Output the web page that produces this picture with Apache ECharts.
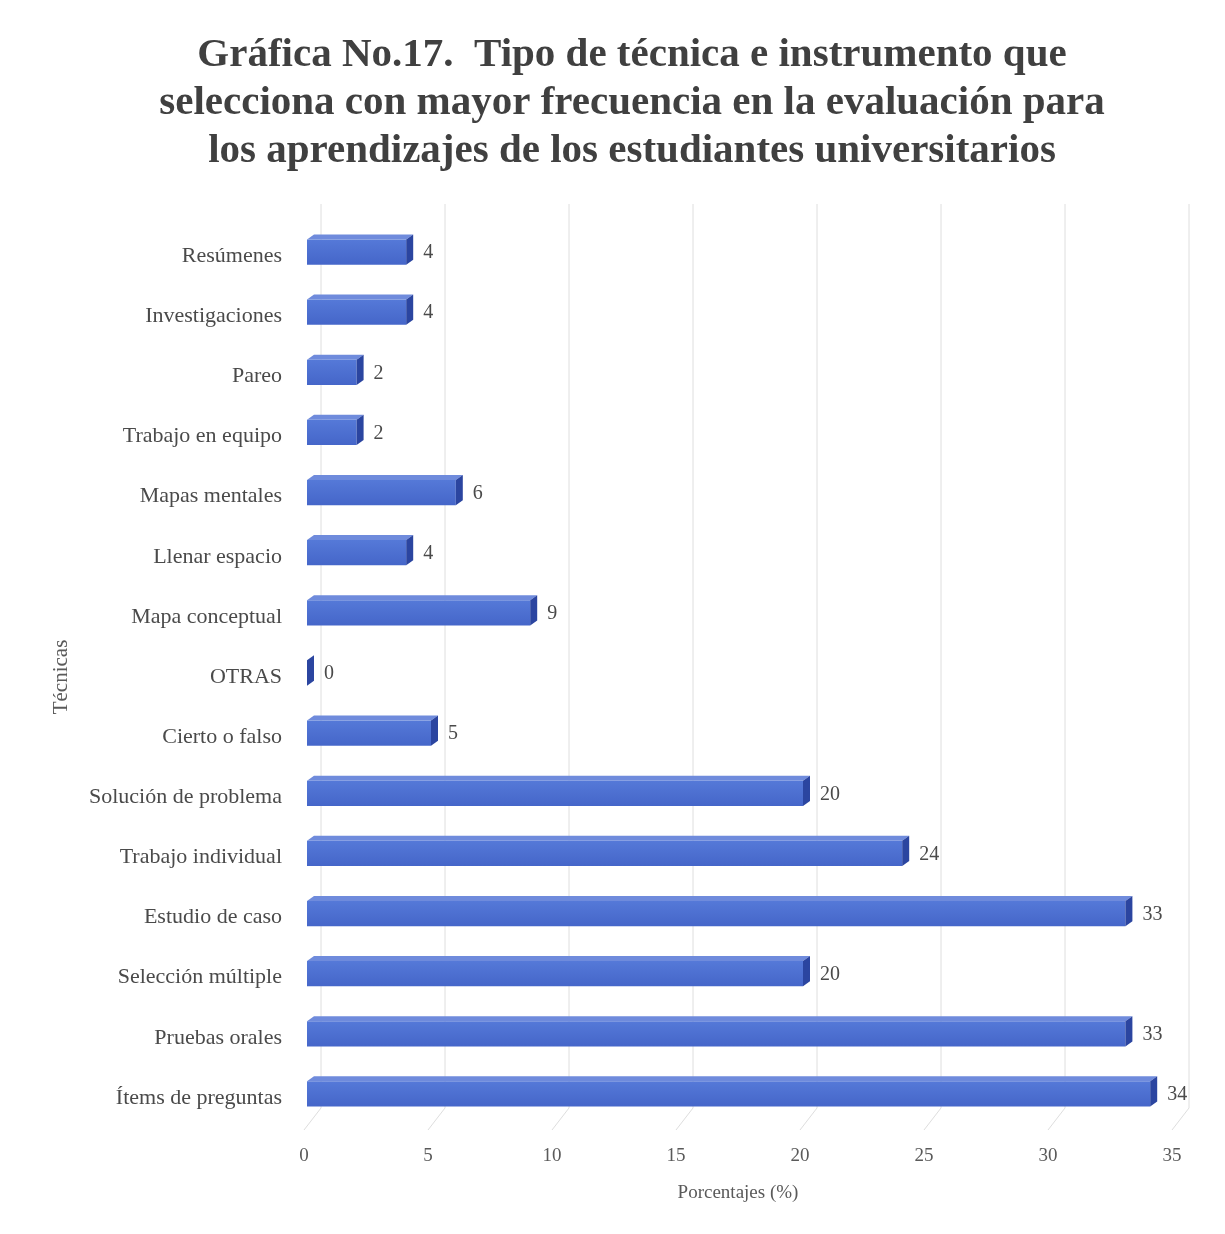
<!DOCTYPE html>
<html><head><meta charset="utf-8">
<script src="https://cdn.jsdelivr.net/npm/echarts@6/dist/echarts.min.js"></script>
<style>html,body{margin:0;padding:0;background:#fff}#c{width:1225px;height:1234px}</style>
</head><body><div id="c"></div>
<script>
const categories = ["Resúmenes","Investigaciones","Pareo","Trabajo en equipo","Mapas mentales","Llenar espacio","Mapa conceptual","OTRAS","Cierto o falso","Solución de problema","Trabajo individual","Estudio de caso","Selección múltiple","Pruebas orales","Ítems de preguntas"];
const values = [4,4,2,2,6,4,9,0,5,20,24,33,20,33,34];
const xTicks = [0,5,10,15,20,25,30,35];
const titleText = "Gráfica No.17.  Tipo de técnica e instrumento que\nselecciona con mayor frecuencia en la evaluación para\nlos aprendizajes de los estudiantes universitarios";

const FONT = '"Liberation Serif","Times New Roman",serif';
const chart = echarts.init(document.getElementById('c'));
const DX = 7, DY = 5;        // bar depth
const WX = 17, WY = 22;      // wall depth

chart.setOption({
  backgroundColor: '#fff',
  animation: false,
  title: {
    text: titleText, left: 627, textAlign: 'center', top: 26,
    textStyle: {fontFamily: FONT, fontWeight: 'bold', fontSize: 41, lineHeight: 48, color: '#404040'}
  },
  grid: {left: 304, right: 53, top: 226, bottom: 106},
  xAxis: {
    type: 'value', min: 0, max: 35, interval: 5,
    axisLine: {show: false}, axisTick: {show: false}, splitLine: {show: false},
    axisLabel: {fontFamily: FONT, fontSize: 19, color: '#5a5a5a', margin: 19},
    name: 'Porcentajes (%)', nameLocation: 'middle', nameGap: 56,
    nameTextStyle: {fontFamily: FONT, fontSize: 19, color: '#5a5a5a'}
  },
  yAxis: {
    type: 'category', data: categories, inverse: true,
    axisLine: {show: false}, axisTick: {show: false},
    axisLabel: {fontFamily: FONT, fontSize: 22, color: '#4a4a4a', margin: 22},
    name: 'Técnicas', nameLocation: 'middle', nameGap: 232, nameRotate: 90,
    nameTextStyle: {fontFamily: FONT, fontSize: 21, color: '#5a5a5a'}
  },
  series: [
    {
      type: 'custom', z: 1, silent: true,
      data: xTicks.map(v => [v, 0]),
      encode: {x: 0, y: 1},
      renderItem: function (params, api) {
        const cs = params.coordSys;
        const x = api.coord([api.value(0), 0])[0];
        const bottom = cs.y + cs.height + 2;
        const top = cs.y - 22;
        return {
          type: 'polyline',
          shape: {points: [[x, bottom], [x + WX, bottom - WY], [x + WX, top]]},
          style: {stroke: '#dedede', lineWidth: 1, fill: null}
        };
      }
    },
    {
      type: 'custom', z: 2,
      data: values.map((v, i) => [v, i]),
      encode: {x: 0, y: 1},
      renderItem: function (params, api) {
        const v = api.value(0);
        const p0 = api.coord([0, api.value(1)]);
        const p1 = api.coord([v, api.value(1)]);
        const band = api.size([0, 1])[1];
        const h = band * 0.42;
        const cy = p0[1] - 4;
        const x0 = p0[0] + 3, x1 = p1[0] + 3;
        const yT = cy - h / 2, yB = cy + h / 2;
        return {
          type: 'group',
          children: [
            {type: 'rect', shape: {x: x0, y: yT, width: Math.max(0, x1 - x0), height: h},
             style: {fill: new echarts.graphic.LinearGradient(0, 0, 0, 1, [{offset: 0, color: '#5579d8'}, {offset: 1, color: '#4566c9'}])}},
            {type: 'polygon', shape: {points: [[x0, yT], [x0 + DX, yT - DY], [x1 + DX, yT - DY], [x1, yT]]},
             style: {fill: '#6f8bdc'}},
            {type: 'polygon', shape: {points: [[x1, yT], [x1 + DX, yT - DY], [x1 + DX, yB - DY], [x1, yB]]},
             style: {fill: '#2b45a0'}},
            {type: 'text', x: x1 + DX + 10, y: cy + 1,
             style: {text: String(v), fontFamily: FONT, fontSize: 20, fill: '#4a4a4a', verticalAlign: 'middle', align: 'left'}}
          ]
        };
      }
    }
  ]
});
</script>
</body></html>
